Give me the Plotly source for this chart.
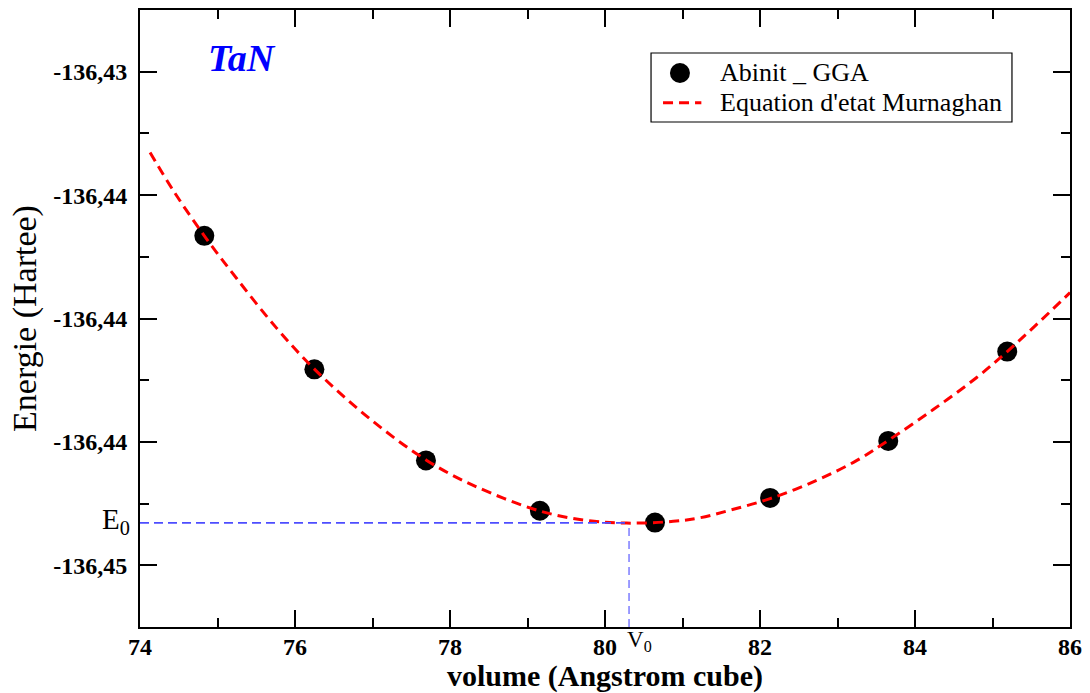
import plotly.graph_objects as go

# Data
vol_pts = [74.83, 76.25, 77.69, 79.16, 80.645, 82.13, 83.655, 85.19]
ene_pts = [-136.43665, -136.44206, -136.44575, -136.44779, -136.44827,
           -136.44727, -136.44496, -136.44134]

curve_vol = [74.13, 74.43, 74.83, 75.25, 75.76, 76.26, 76.98, 77.70, 78.30, 79.16,
             79.76, 80.28, 80.88, 81.23, 81.61, 82.13, 82.73, 83.25, 83.655,
             84.24, 84.80, 85.19, 85.57, 86.0]
curve_ene = [-136.43327, -136.43482, -136.43665, -136.43839, -136.44038, -136.44208,
             -136.44410, -136.44575, -136.44676, -136.44780, -136.44818, -136.44829,
             -136.44822, -136.44807, -136.44777, -136.44730, -136.44656, -136.44575,
             -136.44494, -136.44368, -136.44238, -136.44134, -136.44024, -136.43895]

V0 = 80.31
E0 = -136.44828

y_tickvals = [-136.43, -136.435, -136.44, -136.445, -136.45]
y_ticktext = ["-136,43", "-136,44", "-136,44", "-136,44", "-136,45"]
x_tickvals = [74, 76, 78, 80, 82, 84, 86]

legend_labels = ["Abinit _ GGA", "Equation d'etat Murnaghan"]

SERIF = "Liberation Serif"
RED = "#ff0000"

fig = go.Figure()

fig.add_trace(go.Scatter(
    x=vol_pts, y=ene_pts, mode="markers", name=legend_labels[0], showlegend=False,
    marker=dict(color="black", size=20, line=dict(width=0)),
))
fig.add_trace(go.Scatter(
    x=curve_vol, y=curve_ene, mode="lines", name=legend_labels[1], showlegend=False,
    line=dict(color=RED, width=3, dash="10px,6px", shape="spline"),
))

# E0 / V0 guide lines
fig.add_shape(type="line", xref="x", yref="y", x0=74, x1=V0, y0=E0, y1=E0,
              line=dict(color="#4d4dff", width=1.6, dash="9px,5px"))
fig.add_shape(type="line", xref="x", yref="y", x0=V0, x1=V0, y0=-136.4525, y1=E0,
              line=dict(color="#4d4dff", width=1.1, dash="8px,5px"))

fig.add_annotation(x=0, xref="paper", y=E0, yref="y", text="E<sub>0</sub>",
                   showarrow=False, xanchor="right", yanchor="middle", xshift=-8, yshift=2,
                   font=dict(family=SERIF, size=29, color="black"))
fig.add_annotation(x=V0, xref="x", y=0, yref="paper", text="V<sub>0</sub>",
                   showarrow=False, xanchor="left", yanchor="top", xshift=-3, yshift=1,
                   borderpad=0,
                   font=dict(family=SERIF, size=23, color="black"))
fig.add_annotation(x=74.85, xref="x", y=-136.42943, yref="y", text="<b><i>TaN</i></b>",
                   showarrow=False, xanchor="left", yanchor="middle",
                   font=dict(family=SERIF, size=38, color="#0000ff"))

# Legend (box, symbols and labels), positioned in paper coordinates
fig.add_shape(type="rect", xref="paper", yref="paper", x0=0.5495, x1=0.9376,
              y0=0.8185, y1=0.9303, line=dict(color="black", width=1.2),
              fillcolor="white", layer="above")
fig.add_shape(type="circle", xref="paper", yref="paper", xsizemode="pixel",
              ysizemode="pixel", xanchor=0.5806, yanchor=0.8979,
              x0=-10, x1=10, y0=-10, y1=10, fillcolor="black",
              line=dict(color="black", width=0), layer="above")
fig.add_shape(type="line", xref="paper", yref="paper", x0=0.5624, x1=0.6036,
              y0=0.8498, y1=0.8498, line=dict(color=RED, width=3, dash="10px,6px"),
              layer="above")
for lbl, yy in zip(legend_labels, [0.8979, 0.8498]):
    fig.add_annotation(x=0.6215, xref="paper", y=yy, yref="paper", text=lbl,
                       showarrow=False, xanchor="left", yanchor="middle",
                       font=dict(family=SERIF, size=26, color="black"))

axis_common = dict(
    showgrid=False, zeroline=False, showline=True, linecolor="black", linewidth=2,
    mirror="ticks", ticks="inside", ticklen=17, tickwidth=1.5, tickcolor="black",
    automargin=False,
    tickfont=dict(family=SERIF, size=24, color="black", weight="bold"),
)

fig.update_xaxes(**axis_common, range=[74, 86], tickvals=x_tickvals,
                 ticklabelstandoff=-3,
                 minor=dict(dtick=1, tick0=74, ticklen=9, tickwidth=1.5, tickcolor="black",
                            ticks="inside", showgrid=False),
                 title=dict(text="<b>volume (Angstrom cube)</b>", standoff=0,
                            font=dict(family=SERIF, size=30, color="black")))
fig.update_yaxes(**axis_common, range=[-136.4525, -136.4275], tickvals=y_tickvals,
                 ticktext=y_ticktext, ticklabelstandoff=6,
                 minor=dict(dtick=0.0025, tick0=-136.45, ticklen=9, tickwidth=1.5,
                            tickcolor="black", ticks="inside", showgrid=False),
                 title=dict(text="Energie (Hartee)", standoff=6,
                            font=dict(family=SERIF, size=34, color="black")))

fig.update_layout(
    width=1090, height=693,
    margin=dict(l=140, r=20, t=10, b=66),
    paper_bgcolor="white", plot_bgcolor="white",
    showlegend=False,
)

fig.write_html("out.html")
